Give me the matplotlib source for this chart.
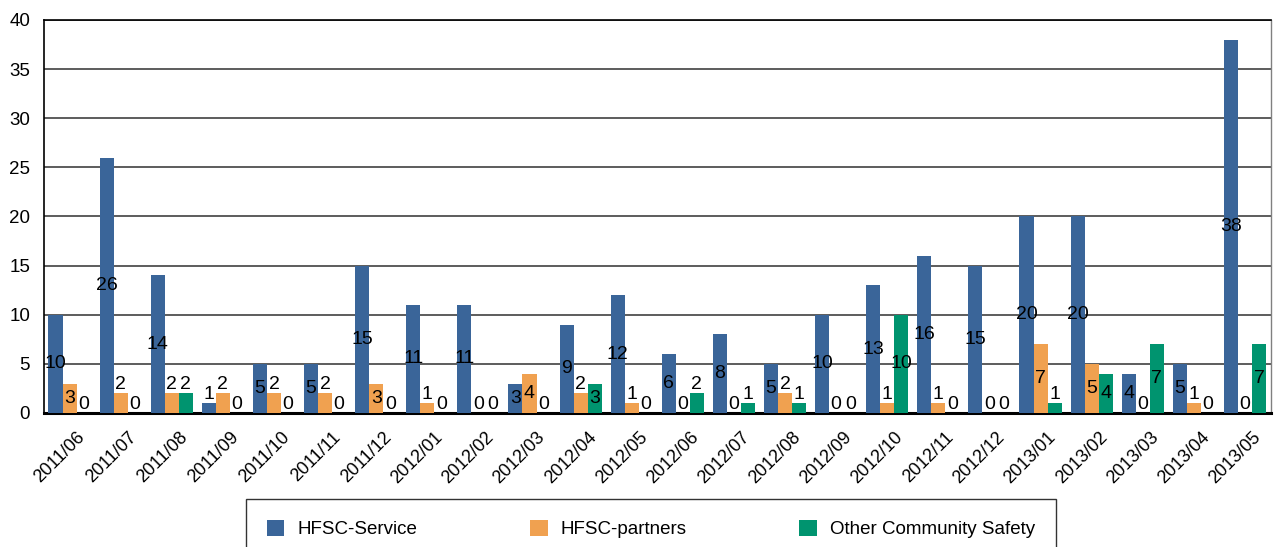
import matplotlib
matplotlib.use("Agg")
import matplotlib.pyplot as plt
import matplotlib.transforms as mtransforms
import numpy as np

plt.rcParams['font.family'] = ['Liberation Sans', 'DejaVu Sans']

months = ["2011/06", "2011/07", "2011/08", "2011/09", "2011/10", "2011/11", "2011/12",
          "2012/01", "2012/02", "2012/03", "2012/04", "2012/05", "2012/06", "2012/07",
          "2012/08", "2012/09", "2012/10", "2012/11", "2012/12", "2013/01", "2013/02",
          "2013/03", "2013/04", "2013/05"]
hfsc_service = [10, 26, 14, 1, 5, 5, 15, 11, 11, 3, 9, 12, 6, 8, 5, 10, 13, 16, 15, 20, 20, 4, 5, 38]
hfsc_partners = [3, 2, 2, 2, 2, 2, 3, 1, 0, 4, 2, 1, 0, 0, 2, 0, 1, 1, 0, 7, 5, 0, 1, 0]
other_cs = [0, 0, 2, 0, 0, 0, 0, 0, 0, 0, 3, 0, 2, 1, 1, 0, 10, 0, 0, 1, 4, 7, 0, 7]
series_names = ["HFSC-Service", "HFSC-partners", "Other Community Safety"]
colors = ["#3A6599", "#F0A150", "#00946F"]

fig = plt.figure(figsize=(12.75, 5.47), dpi=100)
ax = fig.add_axes([0.0345, 0.245, 0.9620, 0.7185])

x = np.arange(len(months))
w = 0.275
series = [hfsc_service, hfsc_partners, other_cs]
handles = []
for k, (vals, c, name) in enumerate(zip(series, colors, series_names)):
    pos = x + (k - 1) * w
    b = ax.bar(pos, vals, width=w, color=c, label=name, zorder=3, linewidth=0)
    handles.append(b)
    for px, v in zip(pos, vals):
        if v >= 3:
            ax.text(px, v / 2, str(v), ha='center', va='center', fontsize=14, zorder=4)
        else:
            ax.text(px, v, str(v), ha='center', va='bottom', fontsize=14, zorder=4)

ax.set_xlim(-0.5, len(months) - 0.5)
ax.set_ylim(0, 40)
ax.set_yticks(range(0, 41, 5))
ax.yaxis.grid(True, color='#303030', linewidth=1.1, zorder=0)
ax.set_axisbelow(True)
ax.set_xticks(x)
ax.set_xticklabels(months, rotation=45, ha='right', va='top', rotation_mode='anchor', fontsize=13)
ax.tick_params(axis='x', length=0, pad=0)
ax.tick_params(axis='y', length=0, labelsize=13.5, pad=10)
offset = mtransforms.ScaledTranslation(7 / 100, -16 / 100, fig.dpi_scale_trans)
for lab in ax.get_xticklabels():
    lab.set_transform(lab.get_transform() + offset)

ax.spines['left'].set_color('black')
ax.spines['left'].set_linewidth(1.2)
ax.spines['top'].set_color('black')
ax.spines['top'].set_linewidth(1.2)
ax.spines['bottom'].set_color('black')
ax.spines['bottom'].set_linewidth(2.2)
ax.spines['right'].set_color('#808080')
ax.spines['right'].set_linewidth(1.0)

leg = fig.legend(handles=handles, labels=series_names, loc='upper left',
                 bbox_to_anchor=(246 / 1275, 1 - 499 / 547), ncol=3, fontsize=13.5,
                 frameon=True, fancybox=False, edgecolor='black', borderpad=1.1,
                 handlelength=0.95, handleheight=0.95, handletextpad=0.7,
                 columnspacing=6.0, borderaxespad=0)
leg.get_frame().set_linewidth(1.0)

fig.savefig("out.png", dpi=100)
